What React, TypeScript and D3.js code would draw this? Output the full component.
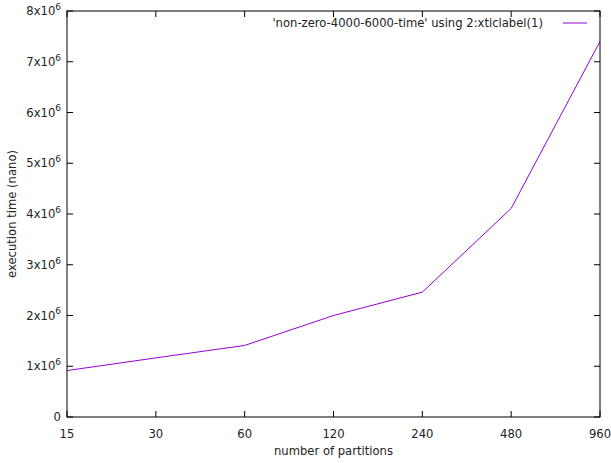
import React from "react";
import * as d3 from "d3";

const categories = ["15", "30", "60", "120", "240", "480", "960"];
const values = [0.915e6, 1.165e6, 1.41e6, 2.0e6, 2.46e6, 4.11e6, 7.4e6];
const yTicks = [0, 1e6, 2e6, 3e6, 4e6, 5e6, 6e6, 7e6, 8e6];
const legendLabel = "'non-zero-4000-6000-time' using 2:xticlabel(1)";

const W = 611, H = 463;
const M = { left: 67, right: 600, top: 11, bottom: 417 };
const FONT = "DejaVu Sans, sans-serif";
const COLOR = "#9400d3";

export default function App() {
  const x = d3.scaleLinear().domain([0, categories.length - 1]).range([M.left, M.right]);
  const y = d3.scaleLinear().domain([0, 8e6]).range([M.bottom, M.top]);
  const line = d3.line<number>().x((_, i) => x(i)).y((d) => y(d));
  const tl = 6;
  return (
    <svg width={W} height={H} style={{ position: "absolute", left: 0, top: 0, background: "#fff" }}>
      <g stroke="#000" strokeWidth={1}>
        {yTicks.map((t) => (
          <g key={"y" + t}>
            <line x1={M.left} x2={M.left + tl} y1={y(t)} y2={y(t)} />
            <line x1={M.right} x2={M.right - tl} y1={y(t)} y2={y(t)} />
          </g>
        ))}
        {categories.map((c, i) => (
          <g key={"x" + c}>
            <line x1={x(i)} x2={x(i)} y1={M.bottom} y2={M.bottom - tl} />
            <line x1={x(i)} x2={x(i)} y1={M.top} y2={M.top + tl} />
          </g>
        ))}
      </g>
      <g fontFamily={FONT} fontSize={11.6} fill="#222">
        {yTicks.map((t) => {
          const v = t / 1e6;
          return (
            <text key={"yl" + t} x={M.left - 6} y={y(t)} dy="0.36em" textAnchor="end">
              {v === 0 ? "0" : (
                <>
                  {v}x10<tspan fontSize={9} dy="-0.6em">6</tspan>
                </>
              )}
            </text>
          );
        })}
        {categories.map((c, i) => (
          <text key={"xl" + c} x={x(i)} y={M.bottom + 21} textAnchor="middle">{c}</text>
        ))}
        <text x={(M.left + M.right) / 2} y={455} textAnchor="middle">number of partitions</text>
        <text transform={`translate(16,${(M.top + M.bottom) / 2}) rotate(-90)`} textAnchor="middle">execution time (nano)</text>
        <text x={543} y={27} textAnchor="end">{legendLabel}</text>
      </g>
      <line x1={563} x2={587} y1={23} y2={23} stroke={COLOR} strokeWidth={1} />
      <path d={line(values) || ""} fill="none" stroke={COLOR} strokeWidth={1} />
      <rect x={M.left} y={M.top} width={M.right - M.left} height={M.bottom - M.top} fill="none" stroke="#000" strokeWidth={1} />
    </svg>
  );
}
